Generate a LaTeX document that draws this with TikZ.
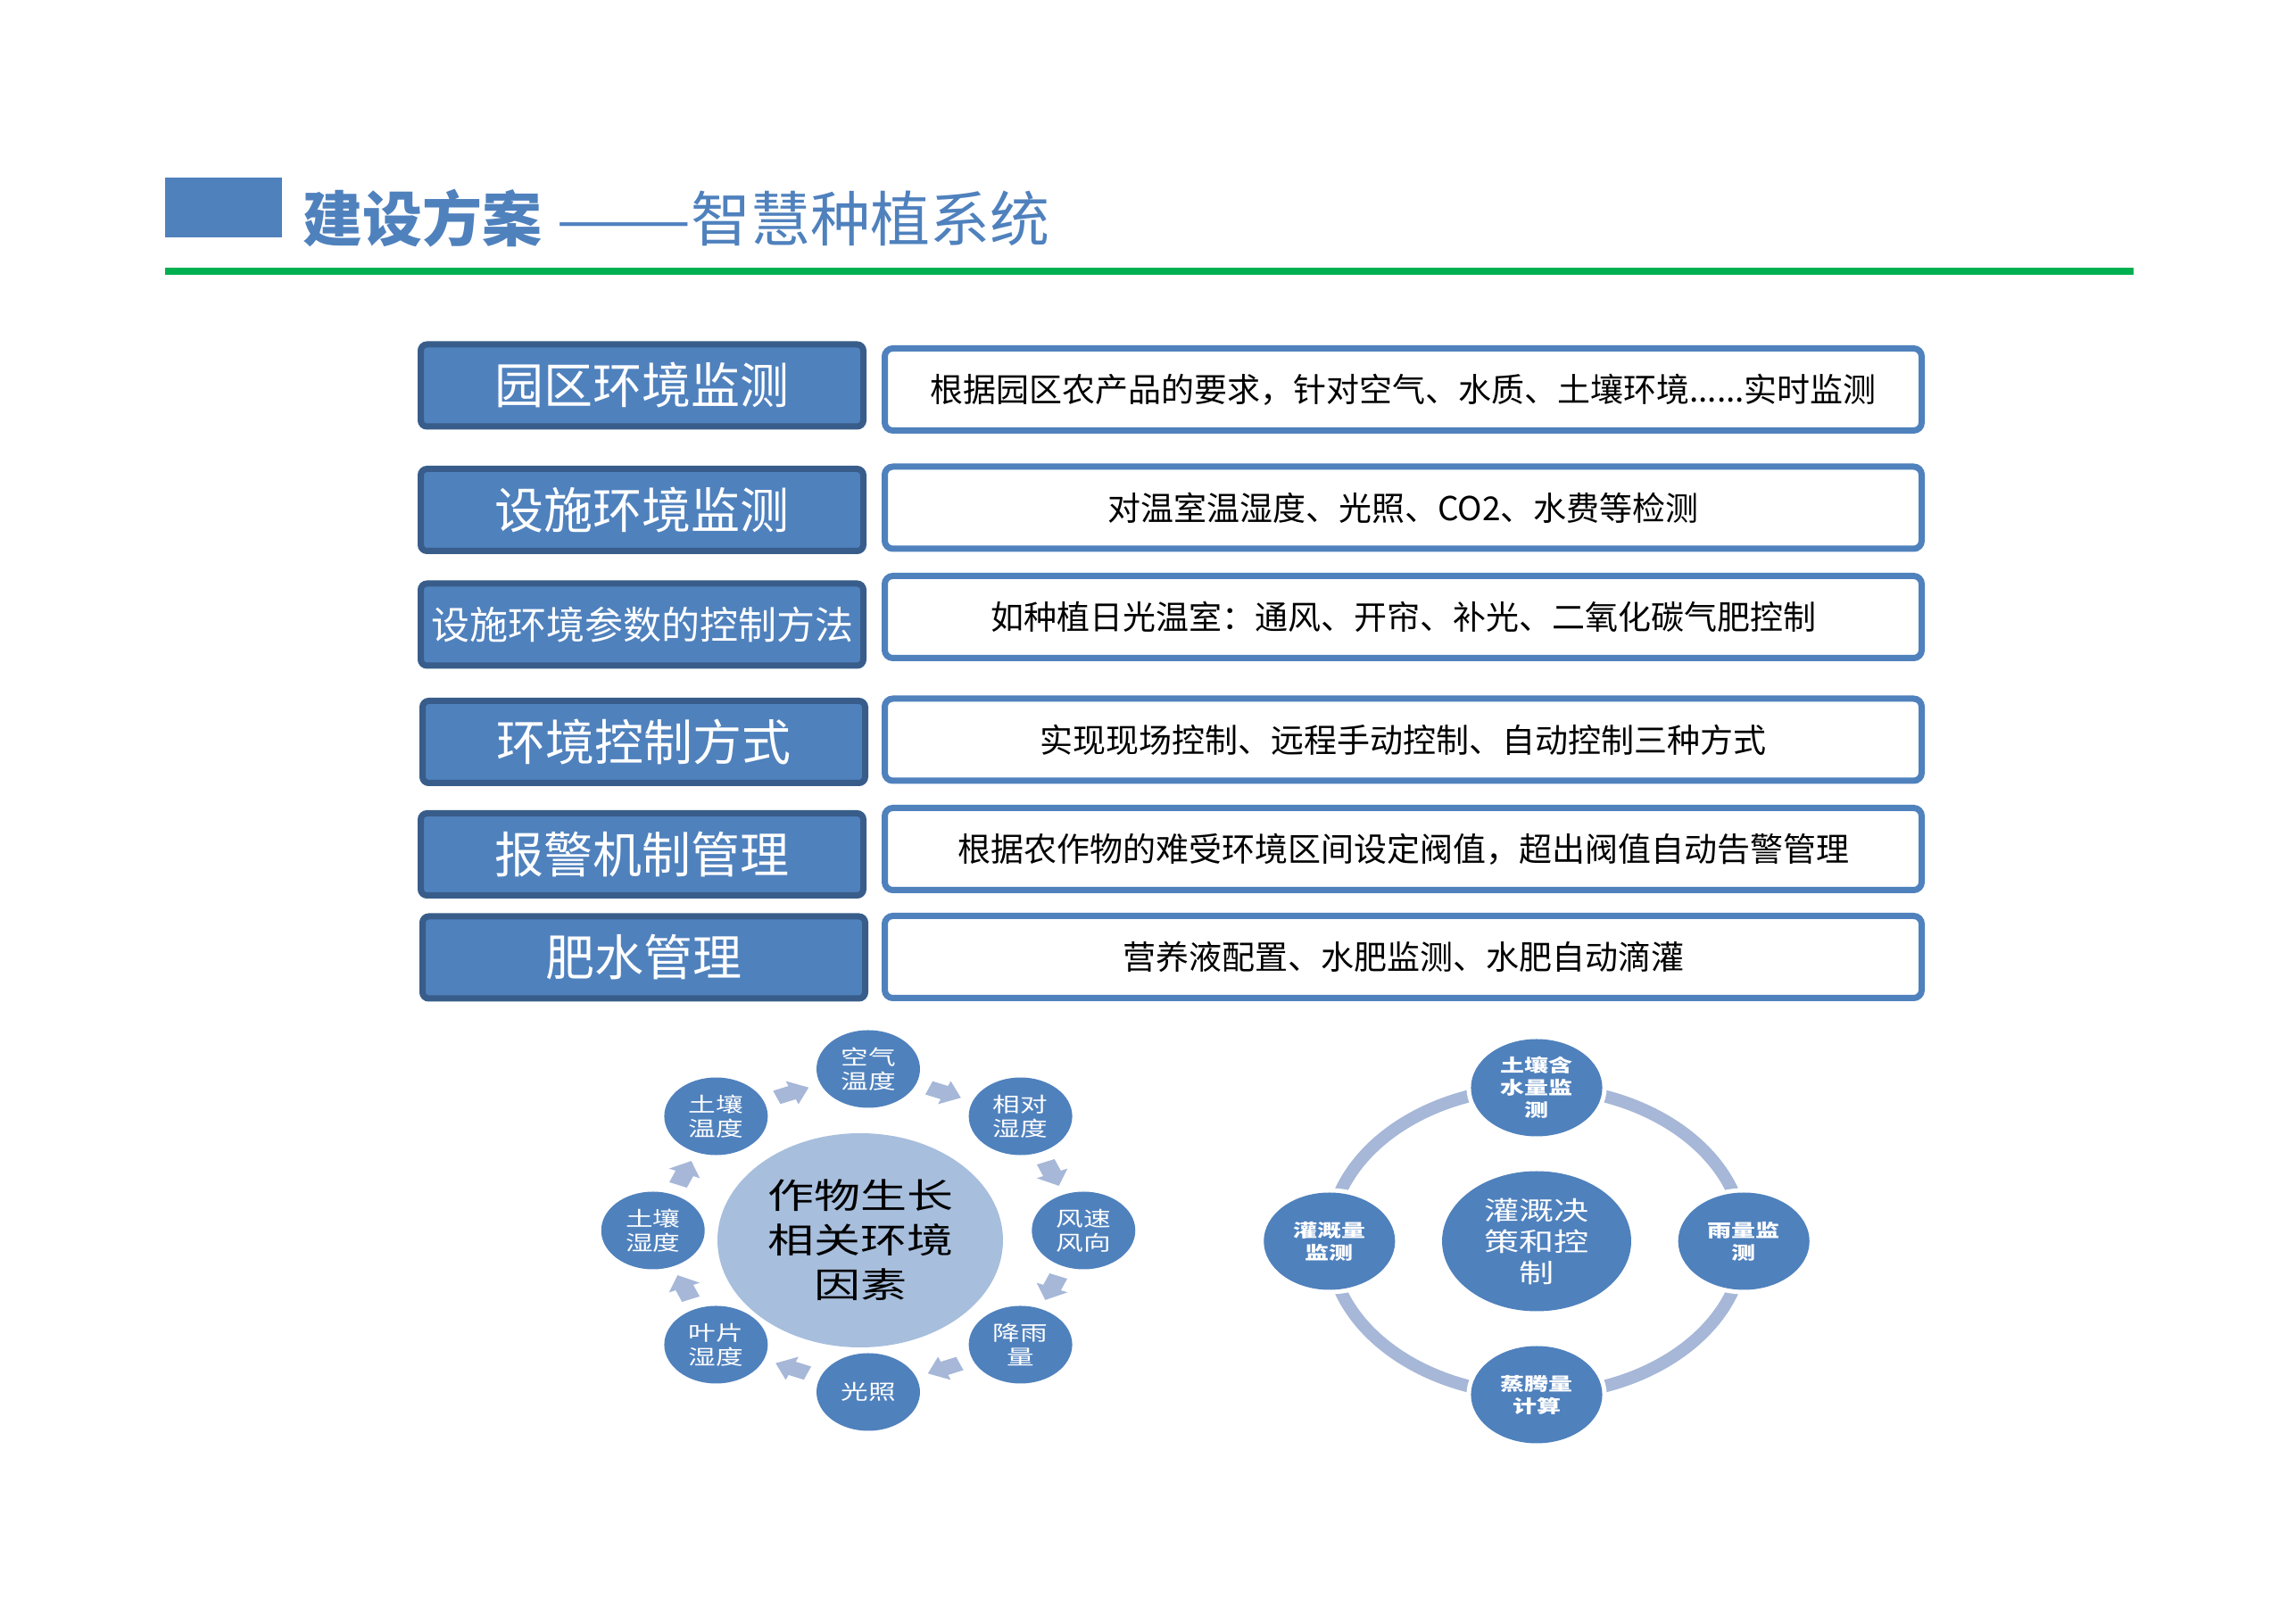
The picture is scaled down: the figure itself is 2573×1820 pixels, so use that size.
\documentclass[tikz,border=0pt]{standalone}
\usepackage{graphicx}
\usepackage{fontspec}
\setmainfont{Noto Sans CJK SC}
\usetikzlibrary{calc}
\definecolor{blueA}{HTML}{4F81BD}
\definecolor{darkB}{HTML}{385D8A}
\definecolor{greenL}{HTML}{00B050}
\definecolor{lightC}{HTML}{A7BEDD}
\definecolor{ringC}{HTML}{A6B7D8}
\begin{document}
\begin{tikzpicture}[x=1pt,y=1pt,
  lbox/.style={rectangle, rounded corners=7pt, fill=blueA, draw=darkB, line width=7pt,
    minimum width=496pt, minimum height=92pt, inner sep=0pt, text=white,
    font=\fontsize{55}{60}\selectfont},
  lboxsmall/.style={lbox, font=\fontsize{43}{50}\selectfont},
  rbox/.style={rectangle, rounded corners=9pt, fill=white, draw=blueA, line width=7pt,
    minimum width=1162pt, minimum height=92pt, inner sep=0pt, text=black,
    font=\fontsize{37}{44}\selectfont},
  titletext/.style={anchor=west, inner sep=0pt, text=blueA},
  smallc/.style={circle, fill=blueA, minimum size=87pt, inner sep=0pt, text=white,
    align=center, font=\fontsize{23}{27}\selectfont},
  bigc/.style={circle, fill=lightC, minimum size=240pt, inner sep=0pt, text=black,
    align=center, font=\fontsize{39}{50}\selectfont},
  rsmall/.style={circle, fill=blueA, minimum size=109pt, inner sep=0pt, text=white,
    align=center, font=\fontsize{20}{25}\selectfont\bfseries,
    preaction={draw=white, line width=10pt}},
  rbig/.style={circle, fill=blueA, minimum size=157pt, inner sep=0pt, text=white,
    align=center, font=\fontsize{29}{35}\selectfont},
  ringline/.style={draw=ringC, line width=14pt},
  cyc/.pic={\fill[ringC] (-14,-8) -- (0,-8) -- (0,-14) -- (15,0) -- (0,14) -- (0,8) -- (-14,8) -- cycle;}
]
\fill[white] (0,0) rectangle (2573,1820);
\useasboundingbox (0,0) rectangle (2573,1820);

% title
\node[fill=blueA, minimum width=131pt, minimum height=67pt, inner sep=0pt, anchor=south west] (tbar) at (185,1554) {};
\node[titletext, font=\fontsize{67}{80}\selectfont\bfseries] (t1) at (339,1575) {建设方案};
\node[titletext, font=\fontsize{67}{80}\selectfont] (t2) at (623,1575) {\scalebox{1.35}[1]{——}智慧种植系统};
\coordinate (g1) at (185,1516);
\coordinate (g2) at (2391,1516);
\draw[greenL, line width=8pt] (g1) -- (g2);

% rows
\node[lbox] (l1) at (719.5,1388) {园区环境监测};
\node[rbox] (r1) at (1572.5,1383.5) {根据园区农产品的要求，针对空气、水质、土壤环境......实时监测};
\node[lbox] (l2) at (719.5,1248.5) {设施环境监测};
\node[rbox] (r2) at (1572.5,1251) {对温室温湿度、光照、CO2、水费等检测};
\node[lboxsmall] (l3) at (719.5,1120) {设施环境参数的控制方法};
\node[rbox] (r3) at (1572.5,1128.5) {如种植日光温室：通风、开帘、补光、二氧化碳气肥控制};
\node[lbox] (l4) at (721.5,988.5) {环境控制方式};
\node[rbox] (r4) at (1572.5,991) {实现现场控制、远程手动控制、自动控制三种方式};
\node[lbox] (l5) at (719.5,862.5) {报警机制管理};
\node[rbox] (r5) at (1572.5,868.5) {根据农作物的难受环境区间设定阀值，超出阀值自动告警管理};
\node[lbox] (l6) at (721.5,747) {肥水管理};
\node[rbox] (r6) at (1572.5,747.5) {营养液配置、水肥监测、水肥自动滴灌};

% left diagram
\begin{scope}[shift={(973,441)}, xscale=1.333, transform shape]
  \node[bigc] (cc) at (-6.75,-11) {作物生长\\相关环境\\因素};
  \node[smallc] (n1) at (90:181) {空气\\温度};
  \node[smallc] (n2) at (45:181) {相对\\湿度};
  \node[smallc] (n3) at (0:181) {风速\\风向};
  \node[smallc] (n4) at (-45:181) {降雨\\量};
  \node[smallc] (n5) at (-90:181) {光照};
  \node[smallc] (n6) at (-135:181) {叶片\\湿度};
  \node[smallc] (n7) at (180:181) {土壤\\湿度};
  \node[smallc] (n8) at (135:181) {土壤\\温度};
  \pic[rotate=22.5] at ($(n8)!0.5!(n1)$) {cyc};
  \pic[rotate=-22.5] at ($(n1)!0.5!(n2)$) {cyc};
  \pic[rotate=-67.5] at ($(n2)!0.5!(n3)$) {cyc};
  \pic[rotate=-112.5] at ($(n3)!0.5!(n4)$) {cyc};
  \pic[rotate=-157.5] at ($(n4)!0.5!(n5)$) {cyc};
  \pic[rotate=157.5] at ($(n5)!0.5!(n6)$) {cyc};
  \pic[rotate=112.5] at ($(n6)!0.5!(n7)$) {cyc};
  \pic[rotate=67.5] at ($(n7)!0.5!(n8)$) {cyc};
\end{scope}

% right diagram
\begin{scope}[shift={(1722,429)}, xscale=1.35, transform shape]
  \coordinate (rcc) at (0,0);
  \draw[ringline] (rcc) circle[radius=172];
  \node[rbig] (rc) at (rcc) {灌溉决\\策和控\\制};
  \node[rsmall] (m1) at (90:172) {土壤含\\水量监\\测};
  \node[rsmall] (m2) at (0:172) {雨量监\\测};
  \node[rsmall] (m3) at (-90:172) {蒸腾量\\计算};
  \node[rsmall] (m4) at (180:172) {灌溉量\\监测};
\end{scope}
\end{tikzpicture}
\end{document}
